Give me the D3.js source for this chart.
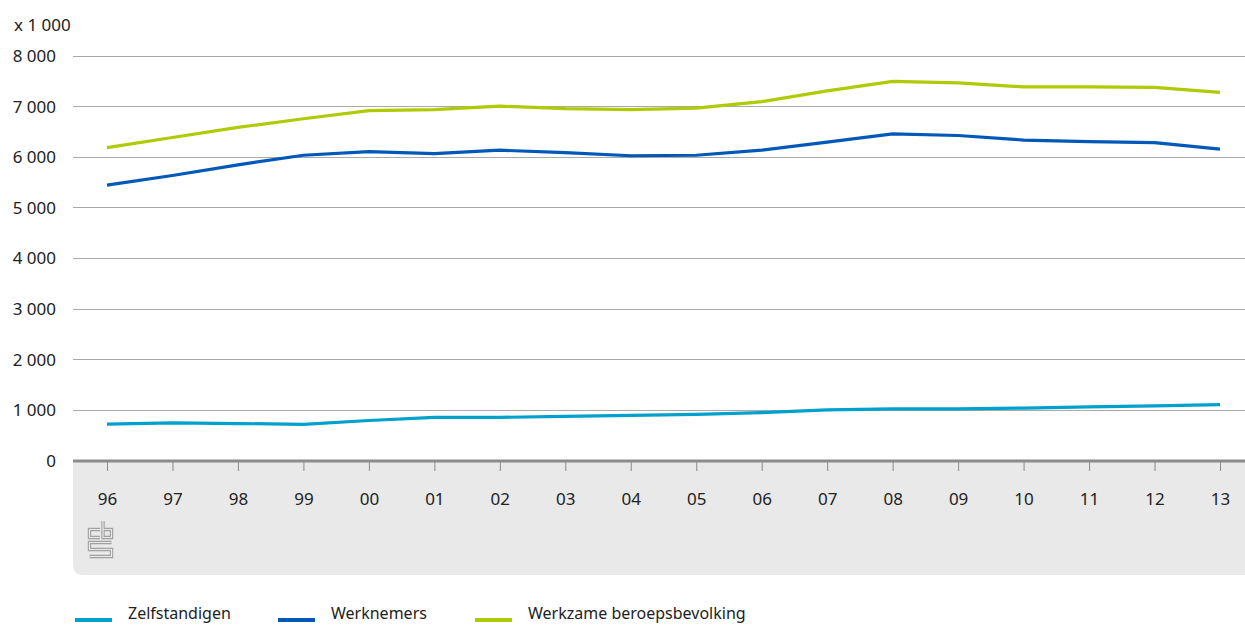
<!DOCTYPE html>
<html><head><meta charset="utf-8">
<script src="https://cdn.jsdelivr.net/npm/d3@7"></script>
<style>
html,body{margin:0;padding:0;background:#fff;}
svg text{font-family:"Noto Sans","Open Sans",sans-serif;fill:#222;}
</style></head>
<body>
<svg id="chart" width="1245" height="625"></svg>
<script>
const years = ["96","97","98","99","00","01","02","03","04","05","06","07","08","09","10","11","12","13"];
const zelfstandigen = [730,755,740,725,800,860,862,880,900,920,955,1010,1030,1030,1045,1070,1090,1115];
const werknemers = [5450,5640,5850,6040,6110,6070,6140,6090,6030,6040,6140,6300,6460,6430,6340,6310,6290,6160];
const werkzaam = [6190,6390,6590,6760,6920,6940,7010,6960,6940,6970,7100,7310,7500,7470,7390,7390,7380,7280];
const yTicks = [0,1000,2000,3000,4000,5000,6000,7000,8000];
const seriesNames = ["Zelfstandigen","Werknemers","Werkzame beroepsbevolking"];
const seriesColors = ["#00a1cd","#0058b8","#afcb05"];
const unitLabel = "x 1 000";

const svg = d3.select("#chart");
const left = 73, right = 1245;
const y = d3.scaleLinear().domain([0,8000]).range([461,56]);
const x = d3.scalePoint().domain(years).range([107,1220]);
const fmt = v => d3.format(",")(v).replace(/,/g," ");
const FS = 17;

// bottom band
const bandTop = 461, bandBottom = 575, r = 10;
svg.append("path")
  .attr("d",`M${left},${bandTop} H${right} V${bandBottom} H${left+r} Q${left},${bandBottom} ${left},${bandBottom-r} Z`)
  .attr("fill","#e9e9e9");

// gridlines
svg.append("g").selectAll("line").data(yTicks.filter(d=>d>0)).join("line")
  .attr("x1",left).attr("x2",right)
  .attr("y1",d=>y(d)).attr("y2",d=>y(d))
  .attr("stroke","#a9a9a9").attr("stroke-width",1).attr("shape-rendering","crispEdges");

// y labels
svg.append("g").selectAll("text").data(yTicks).join("text")
  .attr("x",56).attr("y",d=>y(d)).attr("dy","0.35em")
  .attr("text-anchor","end").attr("font-size",FS).text(fmt);
svg.append("text").attr("x",14).attr("y",25).attr("dy","0.35em")
  .attr("font-size",FS).text(unitLabel);

// x axis
const xAxis = d3.axisBottom(x).tickSize(10).tickPadding(22);
const gx = svg.append("g").attr("transform",`translate(0,${y(0)})`).call(xAxis);
gx.select(".domain").remove();
gx.selectAll(".tick line").attr("stroke","#8a8a8a").attr("stroke-width",1);
gx.selectAll(".tick text").attr("font-size",FS).attr("fill","#222")
  .style("font-family","'Noto Sans','Open Sans',sans-serif");
svg.append("line").attr("x1",left).attr("x2",right).attr("y1",y(0)).attr("y2",y(0))
  .attr("stroke","#8c8c8c").attr("stroke-width",3);

// lines
const data = [zelfstandigen, werknemers, werkzaam];
const line = d3.line().x((d,i)=>x(years[i])).y(d=>y(d));
svg.append("g").selectAll("path").data(data).join("path")
  .attr("d",line).attr("fill","none")
  .attr("stroke",(d,i)=>seriesColors[i]).attr("stroke-width",3.2)
  .attr("stroke-linejoin","miter");

// logo
const logo = svg.append("g").attr("transform","translate(88,521)").attr("fill","none");
const logoPath = "M12,8.5 H1.5 V16.5 H12 M15,0 V16.5 H23.5 V8.5 H15 M23.5,21.5 H1.5 V28.5 H23.5 V35.5 H1.5";
logo.append("path").attr("d",logoPath).attr("stroke","#a0a0a0").attr("stroke-width",3.4);
logo.append("path").attr("d",logoPath).attr("stroke","#e9e9e9").attr("stroke-width",1.2);

// legend
const legX = [75,278,475];
const lg = svg.append("g").selectAll("g").data(seriesNames).join("g")
  .attr("transform",(d,i)=>`translate(${legX[i]},619)`);
lg.append("line").attr("x1",0).attr("x2",37).attr("y1",1).attr("y2",1)
  .attr("stroke",(d,i)=>seriesColors[i]).attr("stroke-width",4);
lg.append("text").attr("x",53).attr("y",0).attr("font-size",16).text(d=>d);
</script>
</body></html>
